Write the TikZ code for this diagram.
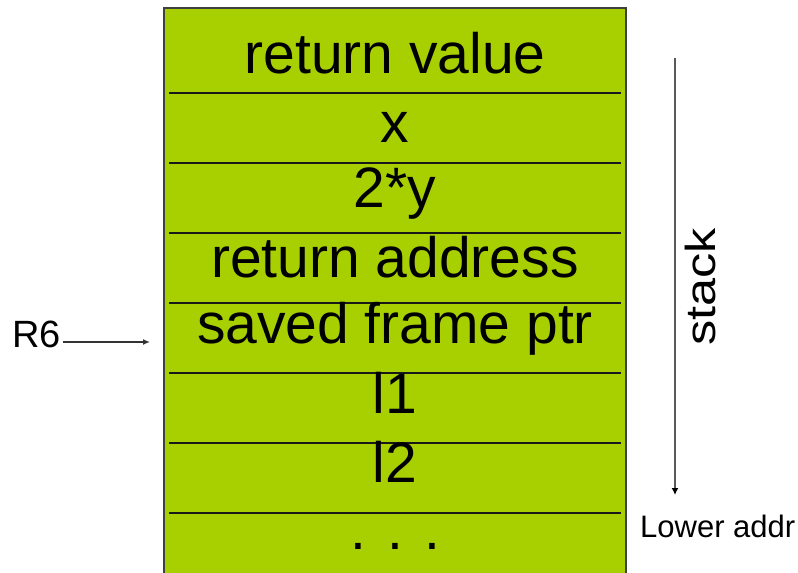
\documentclass[tikz,border=0pt]{standalone}
\usepackage{fontspec}
\setmainfont{Liberation Sans}
\usepackage{xcolor}
\usepackage{tikz}
\usetikzlibrary{positioning, arrows.meta, calc}
\definecolor{stackgreen}{RGB}{168,208,0}

\begin{document}
\begin{tikzpicture}[x=1pt,y=-1pt]
    \useasboundingbox (0,0) rectangle (798,573);
    \clip (0,0) rectangle (798,573);
    % 栈帧外框
    \fill[stackgreen] (164,8) rectangle (626,590);
    \draw[black!75, line width=2pt] (164,590) -- (164,8) -- (626,8) -- (626,590);
    % 分隔线
    \foreach \y in {93,163,233,303,373,443,513} {
        \draw[black!90, line width=1.8pt] (169,\y) -- (621,\y);
    }
    % 各项内容
    \foreach \t/\b [count=\i] in {return value/73, x/142, 2*y/207, return address/277, saved frame ptr/343, l1/413, l2/482, . . ./549} {
        \node[anchor=base, inner sep=0pt, font=\fontsize{57}{60}\selectfont] (row\i) at (395,\b) {\t};
    }
    % R6 指针
    \node[anchor=base west, inner sep=0pt, font=\fontsize{38}{40}\selectfont] (rsix) at (12,347) {R6};
    \coordinate (rsixtip) at (150,342);
    \draw[black!80, line width=1.4pt, -{Latex[length=7pt,width=6pt]}] (rsix.east |- rsixtip) ++(2,0) -- (rsixtip);
    % 栈增长方向
    \coordinate (stacktop) at (675,58);
    \coordinate (stackbot) at (675,495);
    \draw[gray!70!black, line width=1.8pt, -{Latex[length=7pt,width=7pt,black]}] (stacktop) -- (stackbot);
    \node[rotate=90, inner sep=0pt, font=\fontsize{42}{44}\selectfont] (stacklbl) at (700,287) {\scalebox{1.2}[1]{stack}};
    \node[anchor=base west, inner sep=0pt, font=\fontsize{31}{33}\selectfont] (lowaddr) at (640,537) {Lower addr};
\end{tikzpicture}
\end{document}
